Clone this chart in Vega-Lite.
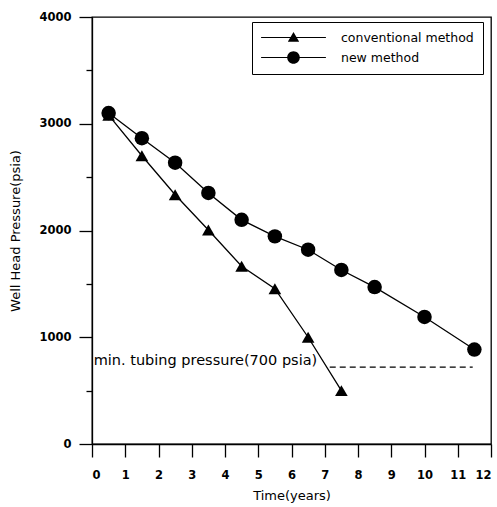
{
  "$schema": "https://vega.github.io/schema/vega-lite/v6.json",
  "width": 399,
  "height": 427,
  "autosize": "none",
  "padding": {"left": 92, "top": 17, "right": 6, "bottom": 63},
  "config": {
    "font": "DejaVu Sans",
    "view": {"stroke": "black", "strokeWidth": 1.3},
    "axis": {"ticks": true, "tickOpacity": 1, "domainColor": "black", "domainWidth": 1.3, "tickColor": "black", "tickWidth": 1.3, "grid": false, "labelColor": "black", "titleColor": "black", "labelFont": "DejaVu Sans", "titleFont": "DejaVu Sans", "labelFontWeight": "bold", "labelFontSize": 11.5, "titleFontSize": 13, "titleFontWeight": "normal", "format": "d"}
  },
  "datasets": {
    "main": [
      {"method": "conventional method", "t": 0.5, "p": 3080},
      {"method": "conventional method", "t": 1.5, "p": 2700},
      {"method": "conventional method", "t": 2.5, "p": 2335},
      {"method": "conventional method", "t": 3.5, "p": 2005},
      {"method": "conventional method", "t": 4.5, "p": 1665},
      {"method": "conventional method", "t": 5.5, "p": 1455},
      {"method": "conventional method", "t": 6.5, "p": 1000},
      {"method": "conventional method", "t": 7.5, "p": 500},
      {"method": "new method", "t": 0.5, "p": 3100},
      {"method": "new method", "t": 1.5, "p": 2865},
      {"method": "new method", "t": 2.5, "p": 2635},
      {"method": "new method", "t": 3.5, "p": 2352},
      {"method": "new method", "t": 4.5, "p": 2100},
      {"method": "new method", "t": 5.5, "p": 1945},
      {"method": "new method", "t": 6.5, "p": 1820},
      {"method": "new method", "t": 7.5, "p": 1630},
      {"method": "new method", "t": 8.5, "p": 1470},
      {"method": "new method", "t": 10, "p": 1190},
      {"method": "new method", "t": 11.5, "p": 885}
    ],
    "limitline": [
      {"t": 7.15, "t2": 11.45, "p": 720}
    ],
    "limittext": [
      {"label": "min. tubing pressure(700 psia)", "t": 0.05, "p": 720}
    ]
  },
  "encoding": {
    "x": {"field": "t", "type": "quantitative", "scale": {"domain": [0, 12], "nice": false},
      "axis": {"values": [0,1,2,3,4,5,6,7,8,9,10,11,12], "labelOverlap": false, "ticks": true, "tickColor": "black", "tickWidth": 1.3, "tickSize": 13, "labelPadding": 12, "title": "Time(years)", "titlePadding": 9,
        "encode": {"ticks": {"update": {"y2": {"value": 13}, "stroke": {"value": "black"}, "strokeWidth": {"value": 1.3}}}}}},
    "y": {"field": "p", "type": "quantitative", "scale": {"domain": [0, 4000], "nice": false},
      "axis": {"values": [0,500,1000,1500,2000,2500,3000,3500,4000], "labelOverlap": false, "ticks": true,
        "tickSize": {"condition": {"test": "datum.value % 1000 === 0", "value": 13}, "value": 6},
        "labelExpr": "datum.value % 1000 === 0 ? datum.label : ''",
        "labelPadding": 8, "title": "Well Head Pressure(psia)", "titlePadding": 16,
        "encode": {"ticks": {"update": {"x2": {"signal": "datum.value % 1000 === 0 ? -13 : -6"}, "stroke": {"value": "black"}, "strokeWidth": {"value": 1.3}}}}}}
  },
  "layer": [
    {
      "data": {"name": "main"},
      "mark": {"type": "line", "color": "black", "strokeWidth": 1.3},
      "encoding": {"detail": {"field": "method"}}
    },
    {
      "data": {"name": "main"},
      "transform": [{"filter": "datum.method === 'conventional method'"}],
      "mark": {"type": "point", "shape": "triangle-up", "filled": true, "color": "black", "size": 160, "opacity": 1}
    },
    {
      "data": {"name": "main"},
      "transform": [{"filter": "datum.method === 'new method'"}],
      "mark": {"type": "point", "shape": "circle", "filled": true, "color": "black", "size": 210, "opacity": 1}
    },
    {
      "data": {"name": "main"},
      "mark": {"type": "point", "filled": true, "fill": "black", "stroke": "black", "strokeWidth": 1.3, "opacity": 0},
      "encoding": {
        "shape": {"field": "method", "type": "nominal",
          "scale": {"domain": ["conventional method", "new method"],
            "range": ["M-5.4,-0.1L5.4,-0.1L5.4,0.1L-5.4,0.1ZM0,-0.9L0.95,0.7L-0.95,0.7Z", "M-5.4,-0.1L5.4,-0.1L5.4,0.1L-5.4,0.1ZM1.05,0A1.05,1.05,0,1,1,-1.05,0A1.05,1.05,0,1,1,1.05,0Z"]},
          "legend": {"title": null, "orient": "none", "legendX": 160, "legendY": 5, "strokeColor": "black", "fillColor": "white", "padding": 9,
            "symbolSize": 144, "symbolOffset": 26, "symbolOpacity": 1, "symbolFillColor": "black", "symbolStrokeColor": "black", "symbolStrokeWidth": 0.6,
            "labelFontSize": 12.5, "labelFont": "DejaVu Sans", "labelColor": "black", "labelOffset": 41, "rowPadding": 5,
            "encode": {"symbols": {"update": {"stroke": {"value": "black"}, "strokeWidth": {"value": 0.6}, "fill": {"value": "black"}, "opacity": {"value": 1}}}}}}
      }
    },
    {
      "data": {"name": "limitline"},
      "mark": {"type": "rule", "color": "black", "strokeDash": [6, 4], "strokeWidth": 1.2},
      "encoding": {"x2": {"field": "t2"}}
    },
    {
      "data": {"name": "limittext"},
      "mark": {"type": "text", "align": "left", "baseline": "alphabetic", "dy": -2, "fontSize": 14.5, "color": "black"},
      "encoding": {"text": {"field": "label"}}
    }
  ]
}
